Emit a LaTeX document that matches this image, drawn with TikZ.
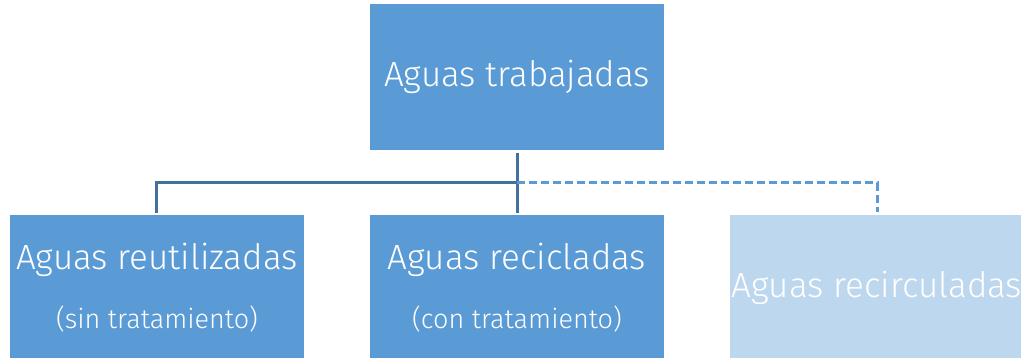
\documentclass[tikz,border=0pt]{standalone}
\usepackage{fontspec}
\setmainfont{Fira Sans}[UprightFont=* Light]
\definecolor{boxblue}{HTML}{5B9BD5}
\definecolor{boxlight}{HTML}{BDD7EE}
\definecolor{linedark}{HTML}{41719C}
\begin{document}
\begin{tikzpicture}[x=1pt,y=-1pt,
  box/.style={draw=none,fill=#1,minimum width=294pt,minimum height=146pt,inner sep=0pt,anchor=north west},
  lbl/.style={text=white,inner sep=0pt,anchor=base,font=\fontsize{35}{40}\selectfont},
  sub/.style={text=white,inner sep=0pt,anchor=base,font=\fontsize{27}{32}\selectfont},
  solidline/.style={draw=linedark,line width=3pt},
  dashline/.style={draw=boxblue,line width=3pt,dash pattern=on 8pt off 4pt}]
\useasboundingbox (0,0) rectangle (1021,358);
\clip (0,0) rectangle (1021,358);
\node[box=boxblue] (top) at (370,4) {};
\node[box=boxblue] (left) at (10,215) {};
\node[box=boxblue] (mid) at (370,215) {};
\node[box=boxlight] (right) at (730,215) {};
\node[lbl] (ttop) at (517,87) {Aguas trabajadas};
\node[lbl] (tleft) at (157,270) {Aguas reutilizadas};
\node[sub] (sleft) at (157,329) {(sin tratamiento)};
\node[lbl] (tmid) at (517,270) {Aguas recicladas};
\node[sub] (smid) at (517,329) {(con tratamiento)};
\node[lbl] (tright) at (877,298) {Aguas recirculadas};
\coordinate (j) at (517,183);
\coordinate (jl) at (156,183);
\coordinate (jr) at (877,183);
\draw[solidline] ([yshift=-3pt]top.south) -- ([yshift=2pt]mid.north);
\draw[solidline] (j) -- (jl) -- ([yshift=2pt]jl |- left.north);
\draw[dashline] (j) -- (jr) -- ([yshift=3pt]jr |- right.north);
\end{tikzpicture}
\end{document}
